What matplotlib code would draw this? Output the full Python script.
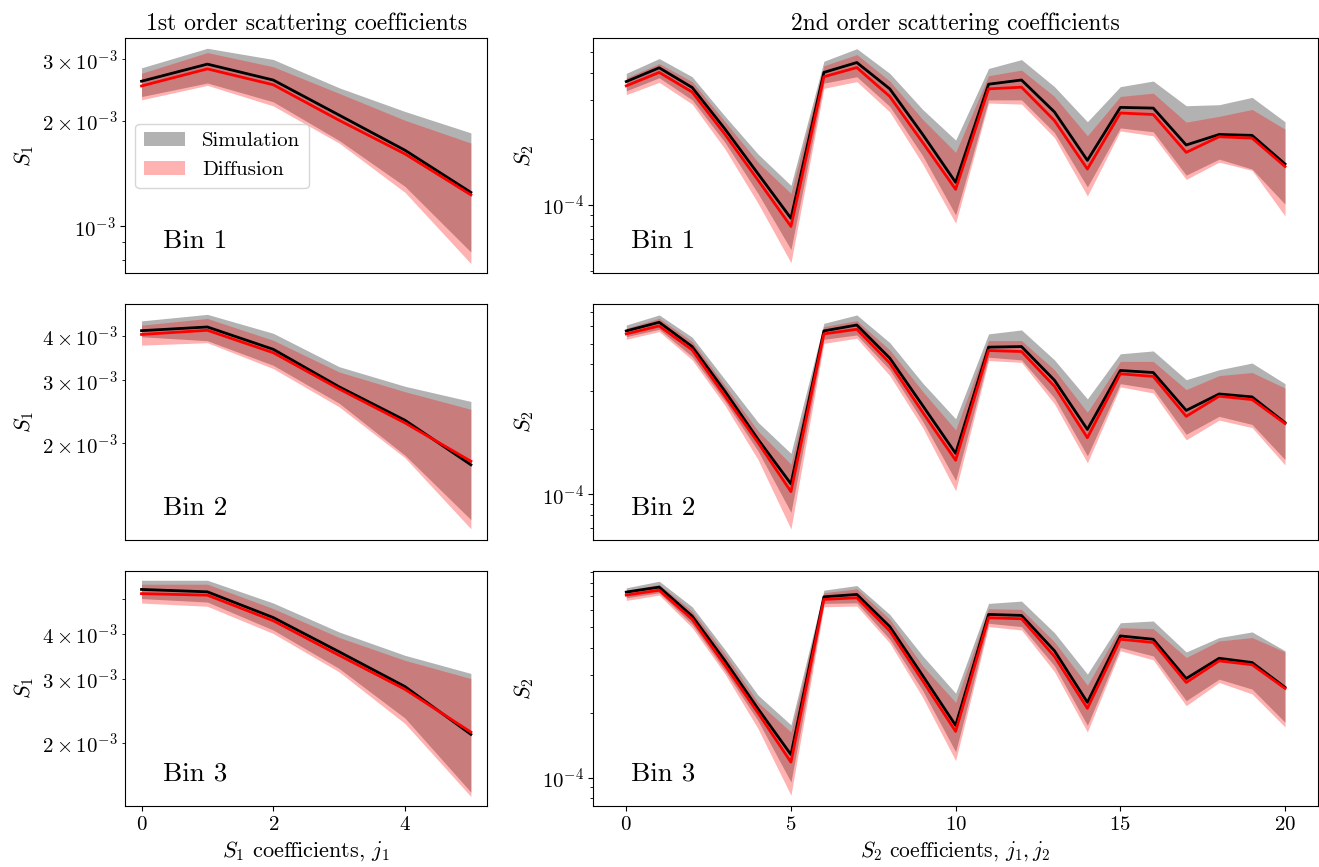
import matplotlib
matplotlib.use("Agg")
import matplotlib.pyplot as plt
import numpy as np
from matplotlib.ticker import MultipleLocator

plt.rcParams['font.family'] = 'serif'
plt.rcParams['font.serif'] = ['cmr10']
plt.rcParams['mathtext.fontset'] = 'cm'
plt.rcParams['axes.formatter.use_mathtext'] = True
plt.rcParams['axes.unicode_minus'] = False

# ---- 1st order coefficients (units of 1e-3), one row per bin ----
j1 = [0, 1, 2, 3, 4, 5]
s1_sim_mean = [[2.60, 2.91, 2.62, 2.08, 1.65, 1.25],
               [4.14, 4.24, 3.67, 2.88, 2.32, 1.74],
               [5.31, 5.23, 4.44, 3.57, 2.86, 2.11]]
s1_sim_lo = [[2.35, 2.57, 2.27, 1.76, 1.30, 0.844],
             [3.98, 3.88, 3.31, 2.59, 1.85, 1.22],
             [5.01, 4.90, 4.10, 3.21, 2.34, 1.46]]
s1_sim_hi = [[2.84, 3.23, 3.00, 2.49, 2.13, 1.85],
             [4.41, 4.60, 4.07, 3.28, 2.89, 2.62],
             [5.63, 5.63, 4.87, 4.05, 3.49, 3.11]]
s1_diff_mean = [[2.52, 2.82, 2.54, 2.01, 1.61, 1.23],
                [4.04, 4.15, 3.59, 2.84, 2.28, 1.78],
                [5.17, 5.12, 4.35, 3.49, 2.81, 2.14]]
s1_diff_lo = [[2.30, 2.53, 2.21, 1.73, 1.25, 0.782],
              [3.77, 3.83, 3.24, 2.53, 1.82, 1.15],
              [4.87, 4.77, 4.01, 3.14, 2.26, 1.42]]
s1_diff_hi = [[2.74, 3.14, 2.86, 2.40, 2.01, 1.73],
              [4.29, 4.48, 3.89, 3.17, 2.79, 2.49],
              [5.49, 5.49, 4.70, 3.91, 3.38, 3.01]]
s1_ylims = [(0.733e-3, 3.457e-3), (1.072e-3, 4.911e-3), (1.337e-3, 5.99e-3)]

# ---- 2nd order coefficients (units of 1e-4) ----
j12 = list(range(21))
s2_sim_mean = [
    [3.66, 4.23, 3.44, 2.22, 1.39, 0.871, 4.03, 4.47, 3.39, 2.10, 1.27,
     3.56, 3.72, 2.66, 1.60, 2.79, 2.77, 1.88, 2.10, 2.08, 1.54],
    [5.72, 6.27, 4.84, 3.00, 1.80, 1.12, 5.72, 6.09, 4.28, 2.58, 1.55,
     4.81, 4.84, 3.38, 2.00, 3.75, 3.67, 2.45, 2.92, 2.83, 2.15],
    [7.29, 7.69, 5.64, 3.49, 2.09, 1.28, 6.93, 7.11, 5.04, 2.98, 1.75,
     5.74, 5.68, 3.89, 2.24, 4.56, 4.40, 2.89, 3.59, 3.43, 2.63]]
s2_sim_lo = [
    [3.32, 3.81, 3.02, 1.93, 1.13, 0.627, 3.60, 3.85, 2.82, 1.68, 0.902,
     3.02, 3.02, 2.14, 1.21, 2.25, 2.16, 1.37, 1.62, 1.46, 1.01],
    [5.38, 5.82, 4.35, 2.70, 1.59, 0.826, 5.23, 5.48, 3.78, 2.18, 1.16,
     4.32, 4.20, 2.80, 1.51, 3.26, 3.08, 1.90, 2.30, 2.11, 1.45],
    [6.86, 7.24, 5.16, 3.14, 1.84, 0.954, 6.46, 6.50, 4.40, 2.54, 1.32,
     5.22, 5.04, 3.31, 1.75, 4.03, 3.68, 2.28, 2.87, 2.58, 1.81]]
s2_sim_hi = [
    [3.99, 4.66, 3.85, 2.54, 1.71, 1.23, 4.53, 5.17, 3.99, 2.73, 1.98,
     4.20, 4.61, 3.47, 2.40, 3.47, 3.68, 2.84, 2.87, 3.10, 2.40],
    [6.09, 6.78, 5.35, 3.40, 2.16, 1.55, 6.20, 6.78, 5.05, 3.28, 2.24,
     5.54, 5.78, 4.20, 2.77, 4.48, 4.62, 3.40, 3.78, 4.06, 3.26],
    [7.63, 8.19, 6.23, 3.93, 2.42, 1.76, 7.44, 7.82, 5.74, 3.68, 2.47,
     6.46, 6.62, 4.72, 3.03, 5.25, 5.35, 3.84, 4.48, 4.76, 3.89]]
s2_diff_mean = [
    [3.50, 4.03, 3.28, 2.10, 1.30, 0.799, 3.85, 4.24, 3.13, 1.93, 1.18,
     3.39, 3.45, 2.43, 1.46, 2.63, 2.59, 1.74, 2.05, 2.02, 1.50],
    [5.54, 6.03, 4.67, 2.85, 1.74, 1.03, 5.54, 5.82, 4.06, 2.40, 1.44,
     4.64, 4.59, 3.17, 1.83, 3.62, 3.52, 2.30, 2.85, 2.75, 2.13],
    [7.06, 7.44, 5.45, 3.33, 2.00, 1.18, 6.74, 6.86, 4.81, 2.82, 1.64,
     5.54, 5.48, 3.66, 2.10, 4.40, 4.25, 2.77, 3.49, 3.35, 2.60]]
s2_diff_lo = [
    [3.19, 3.63, 2.89, 1.80, 1.02, 0.546, 3.41, 3.66, 2.66, 1.54, 0.827,
     2.92, 2.89, 2.03, 1.10, 2.18, 2.07, 1.31, 1.57, 1.44, 0.892],
    [5.23, 5.68, 4.20, 2.58, 1.45, 0.692, 5.01, 5.29, 3.55, 2.04, 1.04,
     4.17, 4.09, 2.63, 1.40, 3.15, 2.95, 1.79, 2.21, 2.04, 1.37],
    [6.67, 7.06, 4.98, 3.03, 1.69, 0.828, 6.23, 6.28, 4.22, 2.36, 1.20,
     5.04, 4.86, 3.11, 1.63, 3.89, 3.53, 2.16, 2.77, 2.45, 1.72]]
s2_diff_hi = [
    [3.81, 4.42, 3.66, 2.40, 1.57, 1.13, 4.32, 4.86, 3.68, 2.46, 1.74,
     3.89, 4.13, 3.13, 2.07, 3.13, 3.24, 2.39, 2.54, 2.73, 2.22],
    [5.88, 6.54, 5.11, 3.19, 1.97, 1.38, 5.99, 6.38, 4.67, 3.00, 1.99,
     5.16, 5.16, 3.78, 2.40, 4.13, 4.13, 3.06, 3.55, 3.67, 3.11],
    [7.44, 7.91, 5.95, 3.75, 2.24, 1.63, 7.24, 7.55, 5.45, 3.31, 2.24,
     6.10, 6.06, 4.28, 2.69, 4.98, 4.93, 3.62, 4.32, 4.48, 3.84]]

bins = ['Bin 1', 'Bin 2', 'Bin 3']

fig = plt.figure(figsize=(13.19, 8.67), dpi=100)
gs = fig.add_gridspec(3, 2, width_ratios=[1, 2], left=0.0948, right=0.9992,
                      top=0.9562, bottom=0.0704, wspace=0.195, hspace=0.131)


def draw(ax, x, sm, slo, shi, dm, dlo, dhi, scale):
    ax.fill_between(x, np.array(slo) * scale, np.array(shi) * scale,
                    color='k', alpha=0.3, lw=0, label='Simulation')
    ax.fill_between(x, np.array(dlo) * scale, np.array(dhi) * scale,
                    color='r', alpha=0.3, lw=0, label='Diffusion')
    ax.plot(x, np.array(sm) * scale, color='k', lw=2)
    ax.plot(x, np.array(dm) * scale, color='r', lw=2)
    ax.set_yscale('log')


for i in range(3):
    ax1 = fig.add_subplot(gs[i, 0])
    draw(ax1, j1, s1_sim_mean[i], s1_sim_lo[i], s1_sim_hi[i],
         s1_diff_mean[i], s1_diff_lo[i], s1_diff_hi[i], 1e-3)
    ax1.set_ylim(*s1_ylims[i])
    ax1.set_ylabel('$S_1$', fontsize=16)
    ax1.xaxis.set_major_locator(MultipleLocator(2))

    ax2 = fig.add_subplot(gs[i, 1])
    draw(ax2, j12, s2_sim_mean[i], s2_sim_lo[i], s2_sim_hi[i],
         s2_diff_mean[i], s2_diff_lo[i], s2_diff_hi[i], 1e-4)
    ax2.set_ylabel('$S_2$', fontsize=16)
    ax2.xaxis.set_major_locator(MultipleLocator(5))

    for ax in (ax1, ax2):
        ax.tick_params(which='both', labelsize=15)
        ax.annotate(bins[i], xy=(0, 0), xycoords='axes fraction',
                    xytext=(27, 18), textcoords='offset points',
                    fontsize=19.5, va='baseline', ha='left')
        if i < 2:
            ax.set_xticks([])

    if i == 0:
        ax1.set_title('1st order scattering coefficients', fontsize=17)
        ax2.set_title('2nd order scattering coefficients', fontsize=17)
        ax1.legend(loc='center left', fontsize=15)
    if i == 2:
        ax1.set_xlabel('$S_1$ coefficients, $j_1$', fontsize=16)
        ax2.set_xlabel('$S_2$ coefficients, $j_1, j_2$', fontsize=15.5)

fig.savefig('out.png', dpi=100)
